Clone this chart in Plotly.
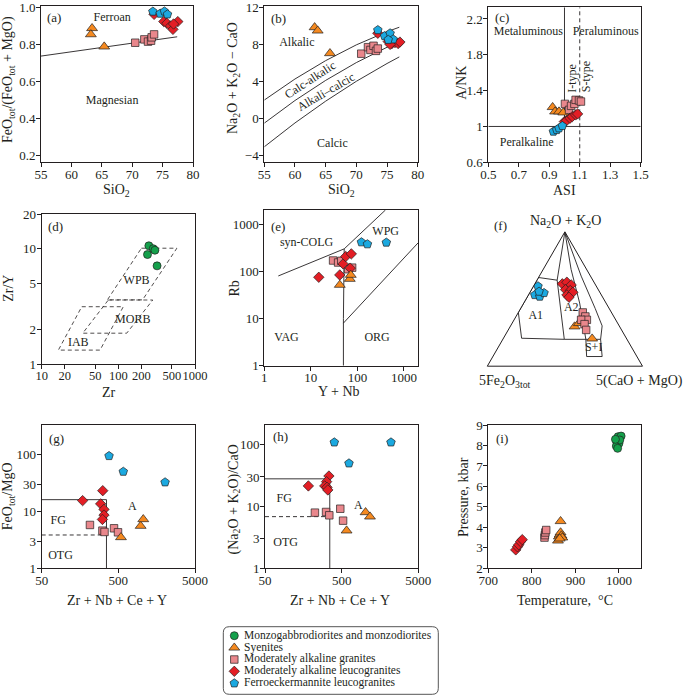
import plotly.graph_objects as go

W, H = 685, 695
FONT = "Liberation Serif"
INK = "#231f20"

# ---------------- rock groups (legend order) ----------------
group_names = ["Monzogabbrodiorites and monzodiorites", "Syenites",
               "Moderately alkaline granites", "Moderately alkaline leucogranites",
               "Ferroeckermannite leucogranites"]
group_symbols = ["circle", "triangle-up", "square", "diamond", "pentagon"]
group_colors = ["#14a04b", "#f5891f", "#e9878c", "#e31e25", "#1ba9e0"]
group_sizes = [8, 9.5, 7.5, 8, 9]

# ---------------- (a) SiO2 vs FeOtot/(FeOtot+MgO) ----------------
a_syen_x = [63.4, 63.2, 65.4]
a_syen_y = [0.887, 0.854, 0.788]
a_gran_x = [70.5, 72.0, 72.6, 73.1, 73.2, 73.6]
a_gran_y = [0.809, 0.827, 0.815, 0.820, 0.838, 0.854]
a_leuco_x = [73.6, 75.2, 75.7, 76.3, 76.7, 77.5, 76.8]
a_leuco_y = [0.962, 0.923, 0.914, 0.899, 0.881, 0.923, 0.910]
a_ferro_x = [73.4, 74.6, 75.3, 75.8]
a_ferro_y = [0.977, 0.966, 0.978, 0.962]
a_bound_x = [55, 77.4]
a_bound_y = [0.737, 0.841]

# ---------------- (b) SiO2 vs Na2O+K2O-CaO ----------------
b_syen_x = [63.2, 63.7, 65.7]
b_syen_y = [9.84, 9.48, 7.04]
b_gran_x = [70.8, 71.9, 72.3, 72.8, 73.2, 73.5]
b_gran_y = [7.0, 7.7, 7.4, 7.85, 7.3, 7.55]
b_leuco_x = [73.5, 75.2, 75.8, 76.3, 76.8, 77.1, 75.5]
b_leuco_y = [9.2, 8.3, 8.1, 8.2, 8.1, 8.25, 8.0]
b_ferro_x = [73.5, 74.6, 75.5, 76.0, 75.2]
b_ferro_y = [9.55, 8.9, 9.2, 8.55, 8.5]
b_line_x = [55, 60, 65, 70, 75, 77]
b_alkalic_y = [2.0, 4.27, 6.25, 7.95, 9.37, 9.85]
b_mid_x = [55, 60, 65, 70, 75, 76]
b_mid_y = [-0.49, 1.95, 4.12, 6.04, 7.69, 7.98]
b_calcic_y = [-3.04, -0.47, 1.88, 4.02, 5.94, 6.65]

# ---------------- (c) ASI vs A/NK ----------------
c_syen_x = [0.922, 0.938, 0.964, 0.992]
c_syen_y = [1.215, 1.166, 1.166, 1.155]
c_gran_x = [1.003, 1.030, 1.043, 1.065, 1.073, 1.095, 1.108]
c_gran_y = [1.252, 1.185, 1.230, 1.252, 1.297, 1.290, 1.278]
c_leuco_x = [0.999, 1.014, 1.036, 1.051, 1.073, 1.086]
c_leuco_y = [1.054, 1.066, 1.092, 1.110, 1.129, 1.140]
c_ferro_x = [0.927, 0.949, 0.964, 0.986]
c_ferro_y = [0.943, 0.961, 0.980, 1.006]

# ---------------- (d) Zr vs Zr/Y ----------------
d_mzd_x = [250, 240, 285, 300, 320]
d_mzd_y = [10.6, 8.9, 10.0, 9.7, 7.1]
d_wpb_x = [200, 580, 207, 72, 200]
d_wpb_y = [10.1, 10.1, 3.6, 3.6, 10.1]
d_morb_x = [74, 281, 128.5, 34.3, 74]
d_morb_y = [3.59, 3.59, 1.85, 1.85, 3.59]
d_iab_x = [33.3, 116, 57.7, 16.5, 33.3]
d_iab_y = [3.14, 3.14, 1.32, 1.32, 3.14]

# ---------------- (e) Y+Nb vs Rb ----------------
e_leuco_x = [14.8, 41.8, 49.3, 56, 74, 70]
e_leuco_y = [75, 84, 144, 206, 235, 117]
e_gran_x = [30, 38.5, 45, 77, 63]
e_gran_y = [170, 154, 167, 120, 111]
e_syen_x = [41.8, 68.5, 72]
e_syen_y = [51.6, 69, 84]
e_ferro_x = [122, 164, 418]
e_ferro_y = [415, 377, 408]
e_syncolg_x = [2, 52, 400]
e_syncolg_y = [80, 300, 2000]
e_vag_x = [50, 50, 52]
e_vag_y = [1, 10, 300]
e_org_x = [50, 2000]
e_org_y = [8, 400]

# ---------------- (f) ternary ----------------
f_ferro_a = [0.595, 0.530, 0.518, 0.545, 0.555]
f_ferro_b = [0.376, 0.429, 0.403, 0.362, 0.389]
f_ferro_c = [0.029, 0.041, 0.079, 0.093, 0.056]
f_leuco_a = [0.613, 0.625, 0.605, 0.570, 0.563, 0.530, 0.550, 0.513]
f_leuco_c = [0.177, 0.200, 0.238, 0.219, 0.253, 0.248, 0.276, 0.270]
f_gran_a = [0.400, 0.370, 0.345, 0.345, 0.313, 0.270]
f_gran_c = [0.415, 0.447, 0.469, 0.432, 0.470, 0.502]
f_syen_a = [0.295, 0.320, 0.205]
f_syen_c = [0.415, 0.430, 0.573]
f_a1_a = [0.66, 0.64, 0.20, 0.208, 0.40, 0.66]
f_a1_b = [0.34, 0.23, 0.404, 0.675, 0.60, 0.34]
f_a1_c = [0.00, 0.13, 0.396, 0.117, 0.00, 0.00]
f_p_a = [1.0, 0.64]
f_p_b = [0.0, 0.23]
f_p_c = [0.0, 0.13]
f_q_a = [1.0, 0.72, 0.47, 0.20, 0.072, 0.072]
f_q_b = [0.0, 0.10, 0.17, 0.265, 0.324, 0.224]
f_q_c = [0.0, 0.18, 0.36, 0.535, 0.604, 0.704]
f_r_a = [1.0, 0.67, 0.43, 0.30, 0.20, 0.072]
f_r_b = [0.0, 0.06, 0.09, 0.11, 0.17, 0.224]
f_r_c = [0.0, 0.27, 0.48, 0.59, 0.63, 0.704]
f_base_a = [0.20, 0.20]
f_base_b = [0.404, 0.17]
f_base_c = [0.396, 0.63]

# ---------------- (g) Zr+Nb+Ce+Y vs FeOtot/MgO ----------------
g_ferro_x = [378, 580, 2035]
g_ferro_y = [93.5, 49.6, 32.3]
g_leuco_x = [313, 171, 294, 325, 325, 310]
g_leuco_y = [23, 15.4, 13.5, 10.8, 8.6, 7.2]
g_gran_x = [213, 310, 330, 439, 495]
g_gran_y = [5.76, 4.58, 4.34, 5.03, 4.28]
g_syen_x = [541, 977, 1057]
g_syen_y = [3.5, 5.53, 7.24]
g_fg_x = [50, 350, 350]
g_fg_y = [16, 16, 1]
g_otg_x = [50, 350]
g_otg_y = [3.84, 3.84]

# ---------------- (h) Zr+Nb+Ce+Y vs (Na2O+K2O)/CaO ----------------
h_ferro_x = [401, 623, 2200]
h_ferro_y = [109, 49.9, 109]
h_leuco_x = [184, 341, 318, 301, 322, 330]
h_leuco_y = [21.5, 31.1, 25.2, 21.5, 20.4, 18.5]
h_gran_x = [224, 313, 345, 480, 522]
h_gran_y = [7.95, 8.15, 7.2, 9.2, 5.9]
h_syen_x = [580, 1026, 1171]
h_syen_y = [4.07, 8.05, 6.85]
h_fg_x = [50, 350, 350]
h_fg_y = [28, 28, 1]
h_otg_x = [50, 350]
h_otg_y = [6.85, 6.85]

# ---------------- (i) Temperature vs Pressure ----------------
i_leuco_x = [763, 767, 770, 774, 778]
i_leuco_y = [2.9, 3.05, 3.15, 3.3, 3.4]
i_gran_x = [829, 830, 831, 833]
i_gran_y = [3.5, 3.62, 3.75, 3.87]
i_syen_x = [866, 860, 862, 864, 866, 868, 870, 864]
i_syen_y = [4.3, 3.35, 3.55, 3.65, 3.75, 3.6, 3.5, 3.45]
i_mzd_x = [998, 1005, 995, 1000, 994, 997, 1002, 992]
i_mzd_y = [8.43, 8.46, 8.19, 8.1, 7.97, 7.86, 8.27, 8.3]


def PX(x):
    return x / W


def PY(y):
    return 1 - y / H


fig = go.Figure()


def marker(g):
    return dict(symbol=group_symbols[g], size=group_sizes[g], color=group_colors[g],
                line=dict(color=INK, width=0.7))


def pts(x, y, g, n):
    fig.add_trace(go.Scatter(x=x, y=y, mode="markers", marker=marker(g),
                             xaxis="x%s" % n, yaxis="y%s" % n,
                             showlegend=False, hoverinfo="skip"))


def line(x, y, n, dash=None, width=0.9):
    fig.add_trace(go.Scatter(x=x, y=y, mode="lines",
                             line=dict(color=INK, width=width, dash=dash),
                             xaxis="x%s" % n, yaxis="y%s" % n,
                             showlegend=False, hoverinfo="skip"))


def label(x, y, text, n, size=12):
    fig.add_trace(go.Scatter(x=[x], y=[y], mode="text", text=[text],
                             textposition="middle center",
                             textfont=dict(family=FONT, size=size, color=INK),
                             xaxis="x%s" % n, yaxis="y%s" % n,
                             showlegend=False, hoverinfo="skip"))


DASH = "4px,3px"

# (a)
line(a_bound_x, a_bound_y, "")
label(66.7, 0.94, "Ferroan", "")
label(66.7, 0.495, "Magnesian", "")
pts(a_syen_x, a_syen_y, 1, "")
pts(a_gran_x, a_gran_y, 2, "")
pts(a_leuco_x, a_leuco_y, 3, "")
pts(a_ferro_x, a_ferro_y, 4, "")

# (b)
line(b_line_x, b_alkalic_y, 2)
line(b_mid_x, b_mid_y, 2)
line(b_line_x, b_calcic_y, 2)
label(60.3, 8.1, "Alkalic", 2)
label(66.1, -2.75, "Calcic", 2)
pts(b_syen_x, b_syen_y, 1, 2)
pts(b_gran_x, b_gran_y, 2, 2)
pts(b_leuco_x, b_leuco_y, 3, 2)
pts(b_ferro_x, b_ferro_y, 4, 2)

# (c)
line([1.0, 1.0], [0.6, 2.33], 3)
line([1.1, 1.1], [0.6, 2.33], 3, dash=DASH)
line([0.5, 1.5], [1.0, 1.0], 3)
label(0.763, 2.05, "Metaluminous", 3)
label(1.27, 2.05, "Peraluminous", 3)
label(0.752, 0.82, "Peralkaline", 3)
pts(c_syen_x, c_syen_y, 1, 3)
pts(c_gran_x, c_gran_y, 2, 3)
pts(c_leuco_x, c_leuco_y, 3, 3)
pts(c_ferro_x, c_ferro_y, 4, 3)

# (d)
line(d_wpb_x, d_wpb_y, 4, dash=DASH, width=0.8)
line(d_morb_x, d_morb_y, 4, dash=DASH, width=0.8)
line(d_iab_x, d_iab_y, 4, dash=DASH, width=0.8)
label(173, 5.2, "WPB", 4)
label(154, 2.41, "MORB", 4)
label(30, 1.53, "IAB", 4)
pts(d_mzd_x, d_mzd_y, 0, 4)

# (e)
line(e_syncolg_x, e_syncolg_y, 5)
line(e_vag_x, e_vag_y, 5)
line(e_org_x, e_org_y, 5)
label(8.1, 395, "syn-COLG", 5)
label(405, 700, "WPG", 5)
label(3.0, 3.8, "VAG", 5)
label(264, 3.8, "ORG", 5)
pts(e_gran_x, e_gran_y, 2, 5)
pts(e_leuco_x, e_leuco_y, 3, 5)
pts(e_syen_x, e_syen_y, 1, 5)
pts(e_ferro_x, e_ferro_y, 4, 5)

# (g)
line(g_fg_x, g_fg_y, 6)
line(g_otg_x, g_otg_y, 6, dash=DASH)
label(82, 6.77, "FG", 6)
label(88, 1.67, "OTG", 6)
label(761, 11.8, "A", 6)
pts(g_leuco_x, g_leuco_y, 3, 6)
pts(g_gran_x, g_gran_y, 2, 6)
pts(g_syen_x, g_syen_y, 1, 6)
pts(g_ferro_x, g_ferro_y, 4, 6)

# (h)
line(h_fg_x, h_fg_y, 7)
line(h_otg_x, h_otg_y, 7, dash=DASH)
label(89, 13.1, "FG", 7)
label(93, 2.6, "OTG", 7)
label(825, 10.2, "A", 7)
pts(h_leuco_x, h_leuco_y, 3, 7)
pts(h_gran_x, h_gran_y, 2, 7)
pts(h_syen_x, h_syen_y, 1, 7)
pts(h_ferro_x, h_ferro_y, 4, 7)

# (i)
pts(i_leuco_x, i_leuco_y, 3, 8)
pts(i_gran_x, i_gran_y, 2, 8)
pts(i_syen_x, i_syen_y, 1, 8)
pts(i_mzd_x, i_mzd_y, 0, 8)

# (f) ternary


def tline(a, b, c):
    fig.add_trace(go.Scatterternary(a=a, b=b, c=c, mode="lines",
                                    line=dict(color=INK, width=0.9),
                                    showlegend=False, hoverinfo="skip"))


def tpts(a, c, g, b=None):
    if b is None:
        b = [1 - ai - ci for ai, ci in zip(a, c)]
    fig.add_trace(go.Scatterternary(a=a, b=b, c=c, mode="markers", marker=marker(g),
                                    showlegend=False, hoverinfo="skip"))


def tlabel(a, b, c, text):
    fig.add_trace(go.Scatterternary(a=[a], b=[b], c=[c], mode="text", text=[text],
                                    textfont=dict(family=FONT, size=12, color=INK),
                                    showlegend=False, hoverinfo="skip"))


tline(f_a1_a, f_a1_b, f_a1_c)
tline(f_p_a, f_p_b, f_p_c)
tline(f_q_a, f_q_b, f_q_c)
tline(f_r_a, f_r_b, f_r_c)
tline(f_base_a, f_base_b, f_base_c)
tlabel(0.37, 0.503, 0.127, "A1")
tlabel(0.4325, 0.243, 0.325, "A2")
tlabel(0.1375, 0.246, 0.617, "S+I")
tpts(f_syen_a, f_syen_c, 1)
tpts(f_gran_a, f_gran_c, 2)
tpts(f_leuco_a, f_leuco_c, 3)
tpts(f_ferro_a, f_ferro_c, 4, b=f_ferro_b)

# ---------------- manual legend ----------------
leg_rows = [635.7, 647.7, 659.5, 671.3, 683.3]
for gi in range(5):
    fig.add_trace(go.Scatter(x=[234.3], y=[leg_rows[gi]], mode="markers", marker=marker(gi),
                             xaxis="x9", yaxis="y9", showlegend=False, hoverinfo="skip"))
    fig.add_trace(go.Scatter(x=[244.0], y=[leg_rows[gi]], mode="text", text=[group_names[gi]],
                             textposition="middle right",
                             textfont=dict(family=FONT, size=11.5, color=INK),
                             xaxis="x9", yaxis="y9", showlegend=False, hoverinfo="skip"))


# ---------------- axes ----------------
def axis(dom, rng, anchor, typ="linear", tickvals=None, ticktext=None, size=13, standoff=0):
    return dict(domain=dom, range=rng, anchor=anchor, type=typ,
                showline=True, mirror=True, linecolor=INK, linewidth=1,
                ticks="outside", ticklen=4, tickwidth=1, tickcolor=INK,
                showgrid=False, zeroline=False,
                tickfont=dict(family=FONT, size=size, color=INK),
                tickmode="array", tickvals=tickvals, ticktext=ticktext,
                tickangle=0, automargin=False, fixedrange=True,
                ticklabelstandoff=standoff)


def xd(l, r):
    return [PX(l), PX(r)]


def yd(top, bot):
    return [PY(bot), PY(top)]


XS = -4  # tick label standoff for x axes
YS = -2  # tick label standoff for y axes

layout = dict(
    template="none",
    width=W, height=H, autosize=False,
    margin=dict(l=0, r=0, t=0, b=0, pad=0, autoexpand=False),
    paper_bgcolor="white", plot_bgcolor="white",
    showlegend=False,
)

# (a)
layout["xaxis"] = axis(xd(41, 193), [55, 80], "y", tickvals=[55, 60, 65, 70, 75, 80],
                       ticktext=["55", "60", "65", "70", "75", "80"], standoff=XS)
layout["yaxis"] = axis(yd(6, 162), [0.166, 1.007], "x", tickvals=[0.2, 0.4, 0.6, 0.8, 1.0],
                       ticktext=["0.2", "0.4", "0.6", "0.8", "1.0"], standoff=YS)
# (b)
layout["xaxis2"] = axis(xd(264.3, 417.7), [55, 80], "y2", tickvals=[55, 60, 65, 70, 75, 80],
                        ticktext=["55", "60", "65", "70", "75", "80"], standoff=XS)
layout["yaxis2"] = axis(yd(6, 162), [-4.68, 12.14], "x2", tickvals=[-4, 0, 4, 8, 12],
                        ticktext=["\u22124", "0", "4", "8", "12"], standoff=YS)
# (c)
layout["xaxis3"] = axis(xd(488.3, 640.7), [0.5, 1.5], "y3", tickvals=[0.5, 0.7, 0.9, 1.1, 1.3, 1.5],
                        ticktext=["0.5", "0.7", "0.9", "1.1", "1.3", "1.5"], standoff=XS)
layout["yaxis3"] = axis(yd(7.3, 162.3), [0.6, 2.33], "x3", tickvals=[0.6, 1.0, 1.4, 1.8, 2.2],
                        ticktext=["0.6", "1", "1.4", "1.8", "2.2"], standoff=YS)
# (d)
layout["xaxis4"] = axis(xd(41.7, 195), [1, 3], "y4", "log",
                        tickvals=[10, 20, 50, 100, 200, 500, 1000],
                        ticktext=["10", "20", "50", "100", "200", "500", "1000"], size=12.5,
                        standoff=XS)
layout["yaxis4"] = axis(yd(214, 364), [0, 1.301], "x4", "log", tickvals=[1, 2, 5, 10, 20],
                        ticktext=["1", "2", "5", "10", "20"], standoff=YS)
# (e)
layout["xaxis5"] = axis(xd(264.3, 418), [0, 3.301], "y5", "log", tickvals=[1, 10, 100, 1000],
                        ticktext=["1", "10", "100", "1000"], standoff=XS)
layout["yaxis5"] = axis(yd(210, 365.7), [0, 3.301], "x5", "log", tickvals=[1, 10, 100, 1000],
                        ticktext=["1", "10", "100", "1000"], standoff=YS)
# (g)
layout["xaxis6"] = axis(xd(41.7, 195), [1.699, 3.699], "y6", "log", tickvals=[50, 500, 5000],
                        ticktext=["50", "500", "5000"], standoff=XS)
layout["yaxis6"] = axis(yd(425, 568.3), [0, 2.514], "x6", "log", tickvals=[1, 3, 10, 30, 100],
                        ticktext=["1", "3", "10", "30", "100"], standoff=YS)
# (h)
layout["xaxis7"] = axis(xd(265, 418.3), [1.699, 3.699], "y7", "log", tickvals=[50, 500, 5000],
                        ticktext=["50", "500", "5000"], standoff=XS)
layout["yaxis7"] = axis(yd(425, 568.3), [0, 2.318], "x7", "log", tickvals=[1, 3, 10, 30, 100],
                        ticktext=["1", "3", "10", "30", "100"], standoff=YS)
# (i)
layout["xaxis8"] = axis(xd(488.3, 640.7), [700, 1050], "y8", tickvals=[700, 800, 900, 1000],
                        ticktext=["700", "800", "900", "1000"], standoff=XS)
layout["yaxis8"] = axis(yd(425, 568.3), [2, 9], "x8", tickvals=[2, 3, 4, 5, 6, 7, 8, 9],
                        ticktext=[str(v) for v in range(2, 10)], standoff=YS)
# legend area
layout["xaxis9"] = dict(domain=xd(223.3, 438.3), range=[223.3, 438.3], anchor="y9",
                        visible=False, fixedrange=True, automargin=False)
layout["yaxis9"] = dict(domain=yd(626.7, 694.3), range=[694.3, 626.7], anchor="x9",
                        visible=False, fixedrange=True, automargin=False)

tern_axis = dict(showticklabels=False, ticks="", showgrid=False, linecolor=INK, linewidth=1,
                 title=dict(text=""), showline=True)
layout["ternary"] = dict(domain=dict(x=xd(487.3, 642.5), y=yd(231.8, 366.2)), sum=1,
                         bgcolor="white", aaxis=tern_axis, baxis=tern_axis, caxis=tern_axis)

# ---------------- annotations ----------------
ann = []


def text_px(x, y, t, size=14, angle=0):
    ann.append(dict(x=PX(x), y=PY(y), xref="paper", yref="paper", text=t, showarrow=False,
                    textangle=angle, xanchor="center", yanchor="middle",
                    font=dict(family=FONT, size=size, color=INK)))


# panel letters
for (x, y, t) in [(53.5, 17, "(a)"), (278.3, 18.3, "(b)"), (501.7, 17, "(c)"),
                  (55, 226, "(d)"), (278.3, 226.7, "(e)"), (500, 225, "(f)"),
                  (56.7, 438.3, "(g)"), (280, 436.7, "(h)"), (501.7, 438.3, "(i)")]:
    text_px(x, y, t, size=13)

# axis titles
text_px(116.7, 190.5, "SiO<sub>2</sub>")
text_px(9, 80, "FeO<sub>tot</sub>/(FeO<sub>tot</sub> + MgO)", angle=-90)
text_px(341.7, 190.5, "SiO<sub>2</sub>")
text_px(233.5, 78.5, "Na<sub>2</sub>O + K<sub>2</sub>O \u2212 CaO", angle=-90)
text_px(564, 190.5, "ASI")
text_px(461.5, 83.3, "A/NK", angle=-90)
text_px(109, 392.3, "Zr")
text_px(8.5, 288.3, "Zr/Y", angle=-90)
text_px(339, 391.7, "Y + Nb")
text_px(234.3, 288.3, "Rb", angle=-90)
text_px(116.7, 600, "Zr + Nb + Ce + Y")
text_px(8.5, 496.7, "FeO<sub>tot</sub>/MgO", angle=-90)
text_px(340, 600, "Zr + Nb + Ce + Y")
text_px(233.5, 500, "(Na<sub>2</sub>O + K<sub>2</sub>O)/CaO", angle=-90)
text_px(565, 600, "Temperature,  \u00b0C")
text_px(463.3, 496.7, "Pressure, kbar", angle=-90)

# ternary vertex titles
text_px(565, 221.7, "Na<sub>2</sub>O + K<sub>2</sub>O")
text_px(505, 381.7, "5Fe<sub>2</sub>O<sub>3tot</sub>")
text_px(639.3, 380.5, "5(CaO + MgO)")


# rotated region labels (data coords)
def text_data(x, y, t, n, angle):
    ann.append(dict(x=x, y=y, xref="x%s" % n, yref="y%s" % n, text=t, showarrow=False,
                    textangle=angle, xanchor="center", yanchor="middle",
                    font=dict(family=FONT, size=12, color=INK)))


text_data(62.4, 4.2, "Calc-alkalic", 2, -33)
text_data(65.0, 2.85, "Alkali\u2013calcic", 2, -30)
text_data(1.047, 1.54, "I-type", 3, -90)
text_data(1.14, 1.56, "S-type", 3, -90)

layout["annotations"] = ann

# rounded legend frame
x0, x1, y0, y1 = 223.3, 438.3, 626.7, 694.3
r = 6
path = ("M {a},{b} L {c},{b} Q {x1},{b} {x1},{d} L {x1},{e} Q {x1},{f} {c},{f} "
        "L {a},{f} Q {x0},{f} {x0},{e} L {x0},{d} Q {x0},{b} {a},{b} Z").format(
    a=PX(x0 + r), b=PY(y0), c=PX(x1 - r), d=PY(y0 + r), e=PY(y1 - r), f=PY(y1),
    x0=PX(x0), x1=PX(x1))
layout["shapes"] = [dict(type="path", xref="paper", yref="paper", path=path,
                         line=dict(color="#555", width=1), fillcolor="rgba(0,0,0,0)",
                         layer="below")]

fig.update_layout(**layout)
fig.write_html("out.html", config={"displayModeBar": False, "staticPlot": True},
               post_script="document.body.style.margin='0';document.body.style.padding='0';")
